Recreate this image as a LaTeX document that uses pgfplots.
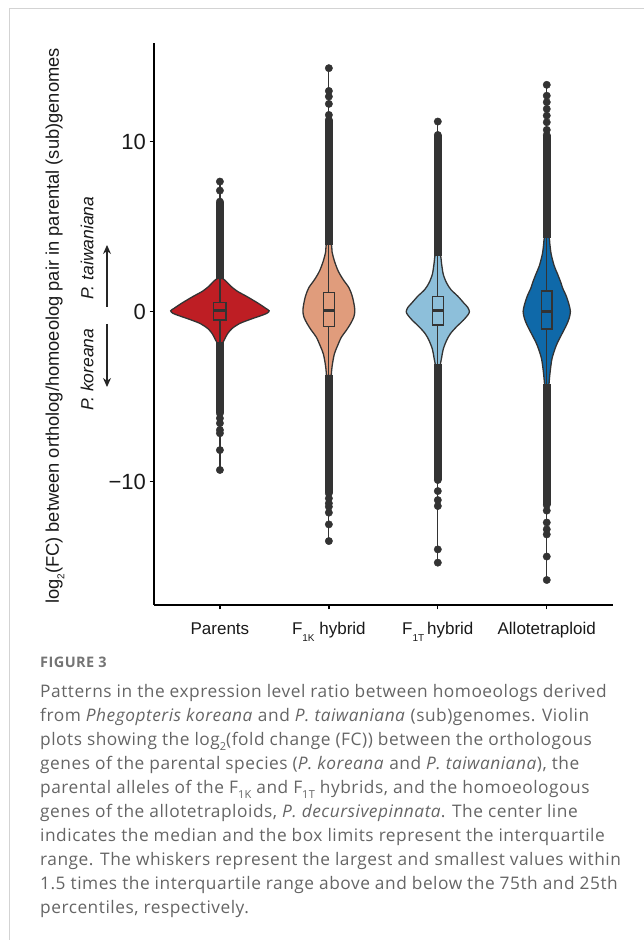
\documentclass[border=0pt]{standalone}
\usepackage{pgfplots}
\pgfplotsset{compat=1.18}
\usepackage{pgfplotstable}
\usetikzlibrary{arrows.meta}
\usepackage{fontspec}
\setmainfont{Liberation Sans}
\newfontfamily\capfont{Open Sans}[LetterSpace=3]
\definecolor{cA}{HTML}{BE1E24}
\definecolor{cB}{HTML}{E09C7C}
\definecolor{cC}{HTML}{8DBFDA}
\definecolor{cD}{HTML}{0F69A9}
\definecolor{dk}{HTML}{333333}
\definecolor{capgray}{HTML}{656565}
\definecolor{frame}{HTML}{D3D3D3}

% violin outlines: signed half width w (x units) against y; right side upwards, left side downwards
\pgfplotstableread{
y w
-1.85 0.025
-1.6 0.045
-1.3 0.07
-1.0 0.11
-0.7 0.18
-0.45 0.28
-0.25 0.37
-0.1 0.43
0.05 0.452
0.2 0.42
0.5 0.35
0.9 0.245
1.2 0.16
1.5 0.10
1.7 0.07
1.95 0.025
1.95 -0.025
1.7 -0.07
1.5 -0.10
1.2 -0.16
0.9 -0.245
0.5 -0.35
0.2 -0.42
0.05 -0.452
-0.1 -0.43
-0.25 -0.37
-0.45 -0.28
-0.7 -0.18
-1.0 -0.11
-1.3 -0.07
-1.6 -0.045
-1.85 -0.025
}\vA
\pgfplotstableread{
y w
-3.75 0.022
-3.2 0.03
-2.5 0.05
-2.0 0.08
-1.5 0.115
-1.1 0.16
-0.7 0.20
-0.3 0.23
0.05 0.238
0.4 0.232
0.9 0.215
1.4 0.185
1.9 0.13
2.4 0.085
3.0 0.05
3.5 0.03
3.95 0.022
3.95 -0.022
3.5 -0.03
3.0 -0.05
2.4 -0.085
1.9 -0.13
1.4 -0.185
0.9 -0.215
0.4 -0.232
0.05 -0.238
-0.3 -0.23
-0.7 -0.20
-1.1 -0.16
-1.5 -0.115
-2.0 -0.08
-2.5 -0.05
-3.2 -0.03
-3.75 -0.022
}\vB
\pgfplotstableread{
y w
-3.15 0.022
-2.7 0.035
-2.2 0.05
-1.7 0.08
-1.3 0.115
-0.9 0.17
-0.5 0.235
-0.2 0.275
0 0.29
0.25 0.275
0.5 0.24
0.9 0.185
1.3 0.12
1.7 0.08
2.2 0.05
2.8 0.035
3.35 0.022
3.35 -0.022
2.8 -0.035
2.2 -0.05
1.7 -0.08
1.3 -0.12
0.9 -0.185
0.5 -0.24
0.25 -0.275
0 -0.29
-0.2 -0.275
-0.5 -0.235
-0.9 -0.17
-1.3 -0.115
-1.7 -0.08
-2.2 -0.05
-2.7 -0.035
-3.15 -0.022
}\vC
\pgfplotstableread{
y w
-4.3 0.02
-3.6 0.03
-2.8 0.047
-2.2 0.075
-1.8 0.1
-1.3 0.14
-0.8 0.18
-0.4 0.205
0 0.217
0.4 0.205
0.9 0.18
1.4 0.145
1.7 0.13
2.2 0.1
2.7 0.068
3.4 0.04
4.0 0.028
4.4 0.02
4.4 -0.02
4.0 -0.028
3.4 -0.04
2.7 -0.068
2.2 -0.1
1.7 -0.13
1.4 -0.145
0.9 -0.18
0.4 -0.205
0 -0.217
-0.4 -0.205
-0.8 -0.18
-1.3 -0.14
-1.8 -0.1
-2.2 -0.075
-2.8 -0.047
-3.6 -0.03
-4.3 -0.02
}\vD

\newcommand{\violin}[3]{%
  \addplot[fill=#3, draw=dk, line width=1.3pt, smooth, tension=0.5] table[x expr={#1+\thisrow{w}}, y=y]{#2} -- cycle;
}
\newcommand{\boxp}[6]{% x, q1, q3, median, halfwidth, colour
  \addplot[fill=#6, draw=dk, line width=1.5pt] coordinates {({#1-#5},#2) ({#1+#5},#2) ({#1+#5},#3) ({#1-#5},#3)} -- cycle;
  \addplot[draw=dk, line width=3pt] coordinates {({#1-#5},#4) ({#1+#5},#4)};
}

\begin{document}
\begin{tikzpicture}
\draw[frame, line width=1pt] (9pt,0pt) -- (9pt,931pt) -- (644pt,931pt);

\begin{axis}[at={(154pt,335pt)}, anchor=south west, scale only axis,
  width=459pt, height=562pt,
  xmin=-0.605, xmax=3.608, ymin=-17.25, ymax=15.8,
  axis x line=bottom, axis y line=left,
  axis line style={-, line width=1.5pt, black},
  tick align=outside, major tick length=4.5pt,
  tick style={line width=1.3pt, black},
  xtick={0,1,2,3},
  xticklabels={Parents, F\raisebox{-0.4em}{\fontsize{10}{10}\selectfont 1K} hybrid, F\raisebox{-0.4em}{\fontsize{10}{10}\selectfont 1T}\,hybrid, Allotetraploid},
  ytick={-10,0,10}, yticklabels={−10,0,10},
  yticklabel style={font=\fontsize{22}{24}\selectfont, text=black!90},
  xticklabel style={font=\fontsize{17}{20}\selectfont, text=black!90, anchor=base, yshift=-25pt},
  clip=false]

% thin lines spanning the full range of each group
\addplot[dk, line width=1.2pt] coordinates {(0,-9.31) (0,7.65)};
\addplot[dk, line width=1.2pt] coordinates {(1,-13.49) (1,14.32)};
\addplot[dk, line width=1.2pt] coordinates {(2,-14.76) (2,11.18)};
\addplot[dk, line width=1.2pt] coordinates {(3,-15.78) (3,13.34)};

\violin{0}{\vA}{cA}
\violin{1}{\vB}{cB}
\violin{2}{\vC}{cC}
\violin{3}{\vD}{cD}

% whiskers inside the violins
\addplot[dk, line width=1.2pt] coordinates {(0,-1.85) (0,1.95)};
\addplot[dk, line width=1.2pt] coordinates {(1,-3.75) (1,3.95)};
\addplot[dk, line width=1.2pt] coordinates {(2,-3.15) (2,3.35)};
\addplot[dk, line width=1.2pt] coordinates {(3,-4.3) (3,4.4)};

\boxp{0}{-0.49}{0.53}{0.05}{0.057}{cA}
\boxp{1}{-0.88}{1.12}{0.05}{0.05}{cB}
\boxp{2}{-0.78}{0.88}{0.04}{0.05}{cC}
\boxp{3}{-1.02}{1.22}{0.0}{0.05}{cD}

% dense outlier columns
\addplot[dk, line width=7.5pt] coordinates {(0,1.9) (0,6.47)};
\addplot[dk, line width=7.5pt] coordinates {(0,-1.8) (0,-5.98)};
\addplot[dk, line width=7.5pt] coordinates {(1,3.9) (1,11.28)};
\addplot[dk, line width=7.5pt] coordinates {(1,-3.7) (1,-10.68)};
\addplot[dk, line width=7.5pt] coordinates {(2,3.3) (2,10.39)};
\addplot[dk, line width=7.5pt] coordinates {(2,-3.1) (2,-9.9)};
\addplot[dk, line width=7.5pt] coordinates {(3,4.35) (3,10.39)};
\addplot[dk, line width=7.5pt] coordinates {(3,-4.25) (3,-11.37)};

% individual outliers
\addplot[only marks, mark=*, mark size=3.7pt, dk, mark options={fill=dk, draw=dk}] coordinates {
(0,7.65) (0,7.12) (0,6.47) (0,-5.98) (0,-6.27) (0,-6.56) (0,-6.96) (0,-7.15) (0,-8.14) (0,-9.31)
(1,14.32) (1,12.98) (1,12.65) (1,12.22) (1,11.57) (1,11.28) (1,-10.68) (1,-10.98) (1,-11.27) (1,-11.47) (1,-11.82) (1,-12.51) (1,-13.49)
(2,11.18) (2,10.39) (2,-9.9) (2,-10.55) (2,-11.08) (2,-11.43) (2,-13.98) (2,-14.76)
(3,13.34) (3,12.7) (3,12.32) (3,11.92) (3,11.53) (3,11.14) (3,10.69) (3,10.39) (3,-11.37) (3,-11.7) (3,-12.4) (3,-12.8) (3,-13.1) (3,-14.4) (3,-15.78)
};
\end{axis}

% axis titles
\node[rotate=90, font=\fontsize{18.3}{20}\selectfont, text=black!90] at (55pt,614pt) {log\raisebox{-0.3em}{\fontsize{10}{10}\selectfont 2}(FC) between ortholog/homoeolog pair in parental (sub)genomes};
\node[rotate=90, anchor=west, font=\fontsize{17.5}{20}\selectfont\itshape, text=black!90] at (87pt,637pt) {P. taiwaniana};
\node[rotate=90, anchor=east, font=\fontsize{17.5}{20}\selectfont\itshape, text=black!90] at (87pt,615pt) {P. koreana};
\draw[black!85, line width=1.2pt, -{Stealth[length=9pt,width=8pt]}] (107pt,633pt) -- (107pt,695pt);
\draw[black!85, line width=1.2pt, -{Stealth[length=9pt,width=8pt]}] (107pt,616pt) -- (107pt,553pt);

% caption
\begin{scope}[every node/.style={anchor=base west, inner sep=0pt, text=capgray}]
\node[font=\capfont\bfseries\fontsize{14.5}{16}\selectfont, text=capgray!90] at (40pt,272pt) {FIGURE 3};
\node[font=\capfont\fontsize{17.3}{20}\selectfont] at (40pt,242pt) {Patterns in the expression level ratio between homoeologs derived};
\node[font=\capfont\fontsize{17.3}{20}\selectfont] at (40pt,218pt) {from \textit{Phegopteris koreana} and \textit{P. taiwaniana} (sub)genomes. Violin};
\node[font=\capfont\fontsize{17.3}{20}\selectfont] at (40pt,194pt) {plots showing the log\raisebox{-0.25em}{\fontsize{11}{11}\selectfont 2}(fold change (FC)) between the orthologous};
\node[font=\capfont\fontsize{17.3}{20}\selectfont] at (40pt,170pt) {genes of the parental species (\textit{P. koreana} and \textit{P. taiwaniana}), the};
\node[font=\capfont\fontsize{17.3}{20}\selectfont] at (40pt,146pt) {parental alleles of the F\raisebox{-0.25em}{\fontsize{11}{11}\selectfont 1K} and F\raisebox{-0.25em}{\fontsize{11}{11}\selectfont 1T} hybrids, and the homoeologous};
\node[font=\capfont\fontsize{17.3}{20}\selectfont] at (40pt,122pt) {genes of the allotetraploids, \textit{P. decursivepinnata}. The center line};
\node[font=\capfont\fontsize{17.3}{20}\selectfont] at (40pt,98pt) {indicates the median and the box limits represent the interquartile};
\node[font=\capfont\fontsize{17.3}{20}\selectfont] at (40pt,74pt) {range. The whiskers represent the largest and smallest values within};
\node[font=\capfont\fontsize{17.3}{20}\selectfont] at (40pt,50pt) {1.5 times the interquartile range above and below the 75th and 25th};
\node[font=\capfont\fontsize{17.3}{20}\selectfont] at (40pt,26pt) {percentiles, respectively.};
\end{scope}
\pgfresetboundingbox
\useasboundingbox (0pt,0pt) rectangle (644pt,940pt);
\end{tikzpicture}
\end{document}
